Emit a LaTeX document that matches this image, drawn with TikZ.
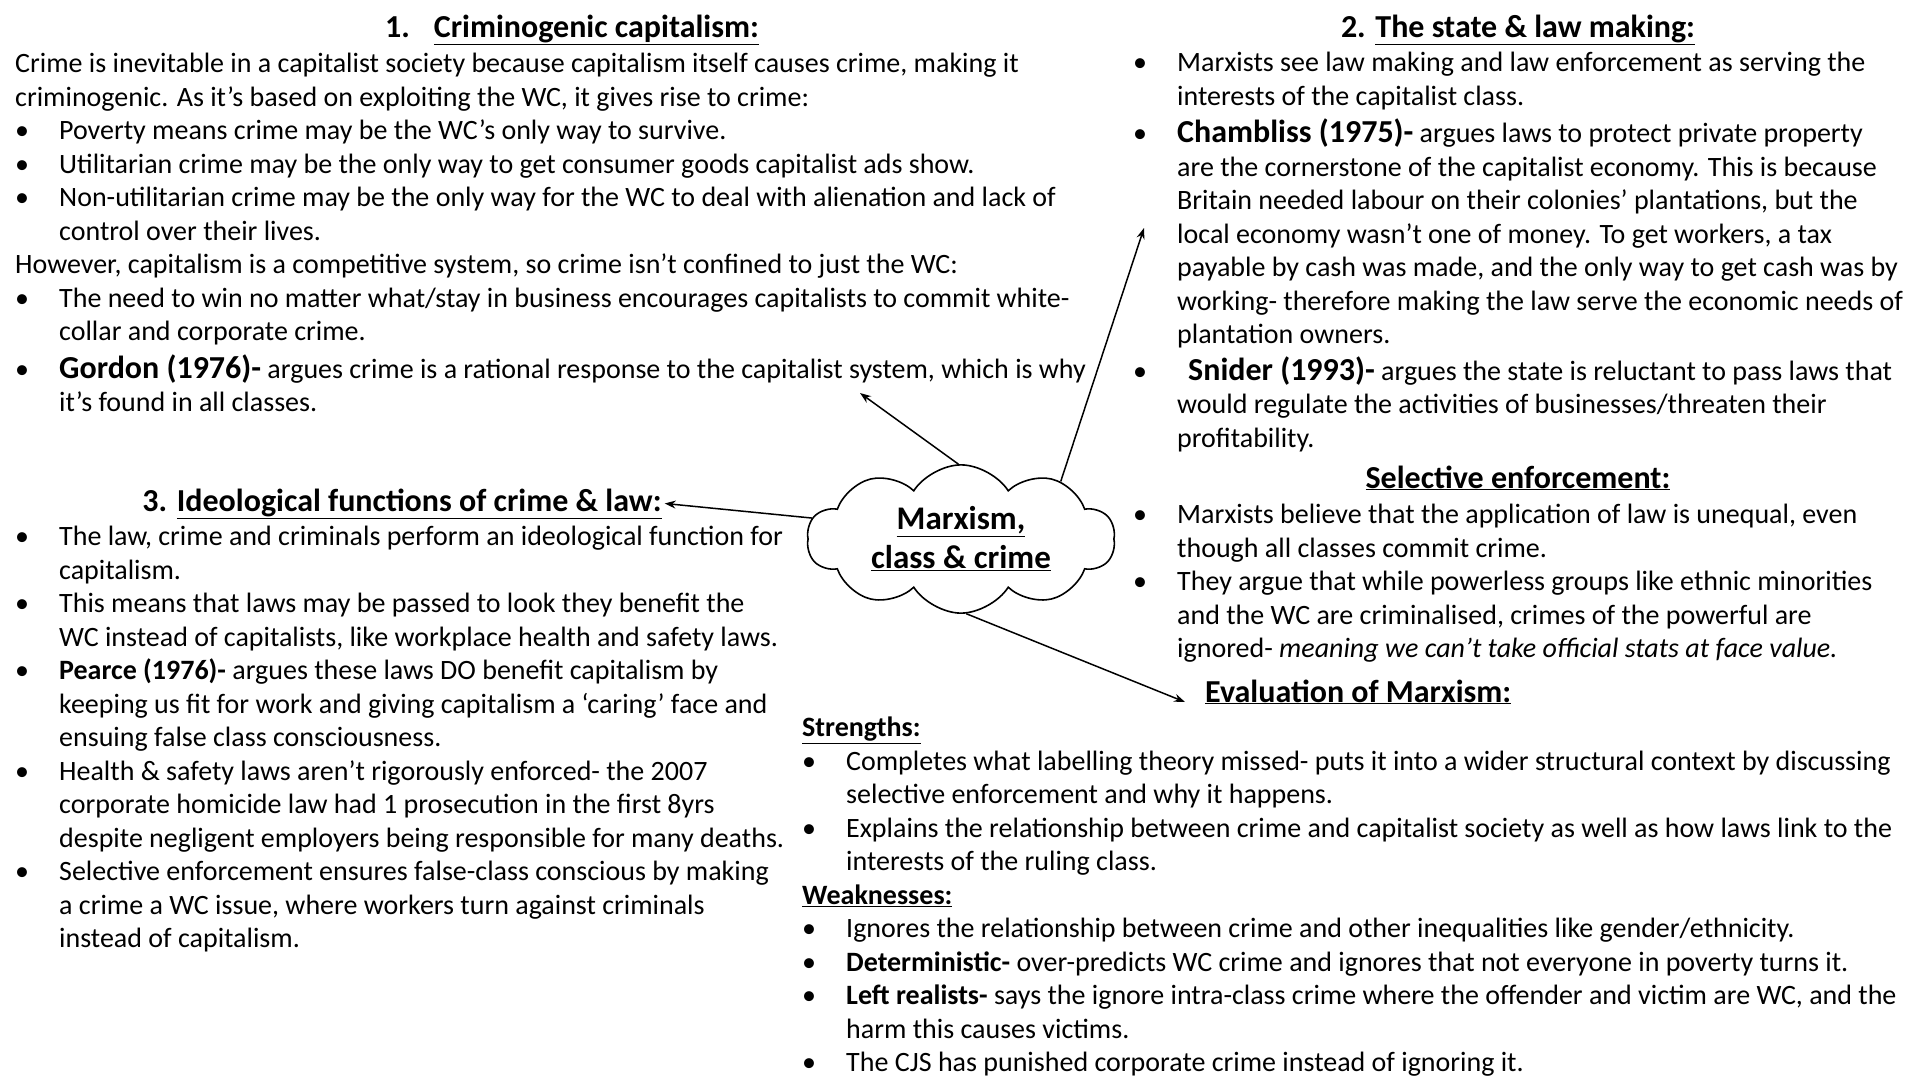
\documentclass[tikz,border=0pt]{standalone}
\usepackage{fontspec}
\setmainfont{Carlito}
\usetikzlibrary{shapes.symbols, arrows.meta, positioning}

\newcommand{\bul}{\makebox[44pt][l]{\textbullet}}
\newcommand{\cont}{\hspace*{44pt}}
\newcommand{\bigname}[1]{{\fontsize{32}{33.5}\selectfont\bfseries #1}}

\tikzset{
  body/.style={font=\fontsize{28}{33.5}\selectfont, align=left, inner sep=0pt, anchor=north west},
  heading/.style={font=\fontsize{32}{33.5}\selectfont\bfseries, inner sep=3pt, anchor=base},
  link/.style={-{Stealth[length=11pt,width=8pt]}, line width=1.5pt},
}

\begin{document}
\begin{tikzpicture}[x=1pt, y=-1pt]
    \fill[white] (0,0) rectangle (1920,1080);
    \useasboundingbox (0,0) rectangle (1920,1080);

    % Centre
    \node[cloud, draw, line width=1.6pt, cloud puffs=10, cloud puff arc=115, aspect=2.3,
          minimum width=308pt, minimum height=136pt, inner sep=0pt, align=center,
          font=\fontsize{33}{39}\selectfont\bfseries] (marxcloud) at (961,539)
          {\underline{Marxism,}\\\underline{class \& crime}};

    % 1. Criminogenic capitalism
    \node[heading] (crimtitle) at (572,37) {1.\hspace{24pt}\underline{Criminogenic capitalism:}};
    \node[body] (crimtext) at (15,49) {\strut Crime is inevitable in a capitalist society because capitalism itself causes crime, making it\\
      criminogenic. As it’s based on exploiting the WC, it gives rise to crime:\\
      \bul Poverty means crime may be the WC’s only way to survive.\\
      \bul Utilitarian crime may be the only way to get consumer goods capitalist ads show.\\
      \bul Non-utilitarian crime may be the only way for the WC to deal with alienation and lack of\\
      \cont control over their lives.\\
      However, capitalism is a competitive system, so crime isn’t confined to just the WC:\\
      \bul The need to win no matter what/stay in business encourages capitalists to commit white-\\
      \cont collar and corporate crime.\\[4pt]
      \bul \bigname{Gordon (1976)-} argues crime is a rational response to the capitalist system, which is why\\
      \cont it’s found in all classes.};

    % 2. The state & law making
    \node[heading] (statetitle) at (1518,37) {2. \underline{The state \& law making:}};
    \node[body] (statetext) at (1133,48) {\strut\bul Marxists see law making and law enforcement as serving the\\
      \cont interests of the capitalist class.\\[4pt]
      \bul \bigname{Chambliss (1975)-} argues laws to protect private property\\
      \cont are the cornerstone of the capitalist economy. This is because\\
      \cont Britain needed labour on their colonies’ plantations, but the\\
      \cont local economy wasn’t one of money. To get workers, a tax\\
      \cont payable by cash was made, and the only way to get cash was by\\
      \cont working- therefore making the law serve the economic needs of\\
      \cont plantation owners.\\[3pt]
      \bul\, \bigname{Snider (1993)-} argues the state is reluctant to pass laws that\\
      \cont would regulate the activities of businesses/threaten their\\
      \cont profitability.};

    % Selective enforcement
    \node[heading] (selecttitle) at (1518,488) {\underline{Selective enforcement:}};
    \node[body] (selecttext) at (1133,500) {\strut\bul Marxists believe that the application of law is unequal, even\\
      \cont though all classes commit crime.\\
      \bul They argue that while powerless groups like ethnic minorities\\
      \cont and the WC are criminalised, crimes of the powerful are\\
      \cont ignored- \textit{meaning we can’t take official stats at face value.}};

    % 3. Ideological functions
    \node[heading] (ideotitle) at (402,511) {3. \underline{Ideological functions of crime \& law:}};
    \node[body] (ideotext) at (15,522) {\strut\bul The law, crime and criminals perform an ideological function for\\
      \cont capitalism.\\
      \bul This means that laws may be passed to look they benefit the\\
      \cont WC instead of capitalists, like workplace health and safety laws.\\
      \bul \textbf{Pearce (1976)-} argues these laws DO benefit capitalism by\\
      \cont keeping us fit for work and giving capitalism a ‘caring’ face and\\
      \cont ensuing false class consciousness.\\
      \bul Health \& safety laws aren’t rigorously enforced- the 2007\\
      \cont corporate homicide law had 1 prosecution in the first 8yrs\\
      \cont despite negligent employers being responsible for many deaths.\\
      \bul Selective enforcement ensures false-class conscious by making\\
      \cont a crime a WC issue, where workers turn against criminals\\
      \cont instead of capitalism.};

    % Evaluation
    \node[heading, anchor=base west] (evaltitle) at (1202,702) {\underline{Evaluation of Marxism:}};
    \node[body] (evaltext) at (802,713) {\strut\textbf{\underline{Strengths:}}\\
      \bul Completes what labelling theory missed- puts it into a wider structural context by discussing\\
      \cont selective enforcement and why it happens.\\
      \bul Explains the relationship between crime and capitalist society as well as how laws link to the\\
      \cont interests of the ruling class.\\
      \textbf{\underline{Weaknesses:}}\\
      \bul Ignores the relationship between crime and other inequalities like gender/ethnicity.\\
      \bul \textbf{Deterministic-} over-predicts WC crime and ignores that not everyone in poverty turns it.\\
      \bul \textbf{Left realists-} says the ignore intra-class crime where the offender and victim are WC, and the\\
      \cont harm this causes victims.\\
      \bul The CJS has punished corporate crime instead of ignoring it.};

    % Arrows
    \coordinate (crimarr) at (860,393);
    \coordinate (statearr) at (1144,228);
    \coordinate (evalarr) at (1185,702);
    \draw[link] (marxcloud.92) -- (crimarr);
    \draw[link] (marxcloud.30) -- (statearr);
    \draw[link] (marxcloud.172) -- (ideotitle.east);
    \draw[link] (marxcloud.274) -- (evalarr);
\end{tikzpicture}
\end{document}
